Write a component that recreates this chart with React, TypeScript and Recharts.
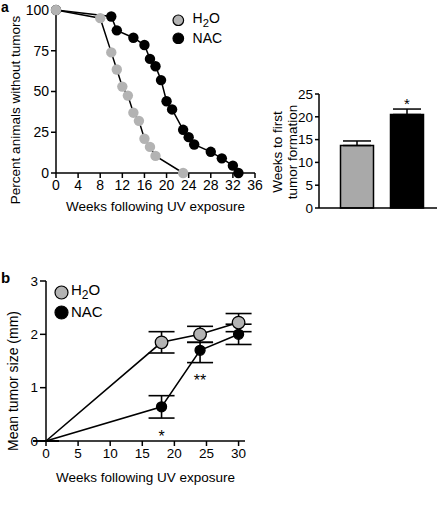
import { LineChart, Line, XAxis, YAxis, ErrorBar, BarChart, Bar, Cell, LabelList, Legend } from 'recharts';

const FONT = '"Liberation Sans", Arial, sans-serif';
const GRAY = '#b3b3b3';
const BAR_GRAY = '#a9a9a9';

// panel a - percent of animals without tumors
const weeksH2O = [0, 8, 10, 11, 12, 13, 14, 15, 16, 17, 18, 23];
const pctH2O = [100, 95, 74, 63.5, 53, 47.5, 37, 32, 21, 16, 10.5, 0];
const weeksNAC = [0, 10, 11, 14, 16, 17, 18, 19, 20, 21, 23, 24, 25, 28, 30, 32, 33];
const pctNAC = [100, 96, 87.5, 83, 78.5, 70, 65.5, 57, 44, 39, 26.5, 22, 17.5, 13, 9, 4.5, 0];
const weekTicks = [0, 4, 8, 12, 16, 20, 24, 28, 32, 36];
const pctTicks = [0, 25, 50, 75, 100];

// inset - weeks to first tumor
const groups = ['H2O', 'NAC'];
const firstTumor = [13.7, 20.5];
const firstTumorErr = [1.0, 1.2];
const firstTumorSig = ['', '*'];
const firstTicks = [0, 5, 10, 15, 20, 25];

// panel b - mean tumor size
const sizeWeeks = [0, 18, 24, 30];
const sizeH2O = [0, 1.85, 2.0, 2.22];
const sizeH2OErr = [0, 0.2, 0.15, 0.17];
const sizeNAC = [0, 0.64, 1.7, 2.0];
const sizeNACErrLow = [0, 0.21, 0.23, 0.19];
const sizeNACErrHigh = [0, 0.21, 0.15, 0.19];
const sizeSig = ['', '*', '**', ''];
const sizeXTicks = [0, 5, 10, 15, 20, 25, 30];
const sizeYTicks = [0, 1, 2, 3];

const survH2O = weeksH2O.map((w, i) => ({ week: w, pct: pctH2O[i] }));
const survNAC = weeksNAC.map((w, i) => ({ week: w, pct: pctNAC[i] }));
const firstData = groups.map((g, i) => ({ group: g, weeks: firstTumor[i], err: [0, firstTumorErr[i]], sig: firstTumorSig[i] }));
const sizeDataH2O = sizeWeeks.map((w, i) => ({ week: w, mm: sizeH2O[i], err: sizeH2OErr[i] }));
const sizeDataNAC = sizeWeeks.map((w, i) => ({ week: w, mm: sizeNAC[i], err: [sizeNACErrLow[i], sizeNACErrHigh[i]], sig: sizeSig[i] }));

const H2OLabel = () => (
  <span>H<sub style={{ fontSize: '0.8em' }}>2</sub>O</span>
);

// rotated y-axis title, one or more lines
function AxisTitle({ lines, titleX, titleY, gap = 15, size = 13.5 }: any) {
  return (
    <g>
      {lines.map((t: string, i: number) => {
        const tx = titleX + i * gap;
        return (
          <text key={i} x={tx} y={titleY} transform={`rotate(-90, ${tx}, ${titleY})`} textAnchor="middle"
            dominantBaseline="central" fontSize={size} fontFamily={FONT} fill="#000">{t}</text>
        );
      })}
    </g>
  );
}

function Key({ r, rowH, gap, fontSize }: any) {
  const items = [
    { key: 'h2o', fill: GRAY, label: <H2OLabel /> },
    { key: 'nac', fill: '#000', label: 'NAC' },
  ];
  return (
    <div style={{ fontFamily: FONT, fontSize, color: '#000' }}>
      {items.map(it => (
        <div key={it.key} style={{ display: 'flex', alignItems: 'center', height: rowH }}>
          <svg width={2 * r + 2} height={2 * r + 2}>
            <circle cx={r + 1} cy={r + 1} r={r} fill={it.fill} stroke="#000" strokeWidth={1.2} />
          </svg>
          <span style={{ marginLeft: gap, lineHeight: `${rowH}px` }}>{it.label}</span>
        </div>
      ))}
    </div>
  );
}

const sizeDot = (fill: string, r: number) => (props: any) => {
  const { cx, cy, payload, index } = props;
  if (payload.week === 0) return <g key={index} />;
  return <circle key={index} cx={cx} cy={cy} r={r} fill={fill} stroke="#000" strokeWidth={1.3} />;
};

const tick = (size: number) => ({ fill: '#000', fontSize: size, fontFamily: FONT });
const axisLine = { stroke: '#000', strokeWidth: 1.5 };
const tickLine = { stroke: '#000', strokeWidth: 1.5 };

export default function App() {
  return (
    <div style={{ position: 'absolute', left: 0, top: 0, width: 440, height: 527, background: '#fff', fontFamily: FONT }}>
      <div style={{ position: 'absolute', left: 1, top: 0, fontSize: 14, fontWeight: 'bold', lineHeight: '14px' }}>a</div>
      <div style={{ position: 'absolute', left: 1, top: 270, fontSize: 15, fontWeight: 'bold', lineHeight: '15px' }}>b</div>

      {/* survival curves */}
      <div style={{ position: 'absolute', left: 0, top: 0 }}>
        <LineChart width={270} height={250} margin={{ top: 10, right: 15, bottom: 0, left: 0 }}>
          <XAxis type="number" dataKey="week" domain={[0, 36]} ticks={weekTicks} height={41}
            tick={tick(14)} tickSize={5} axisLine={axisLine} tickLine={tickLine}
            label={{ value: 'Weeks following UV exposure', position: 'insideBottom', offset: 3, fontSize: 13.5, fontFamily: FONT, fill: '#000' }} />
          <YAxis type="number" domain={[0, 100]} ticks={pctTicks} width={56}
            tick={tick(14)} tickSize={5} axisLine={axisLine} tickLine={tickLine}
            label={<AxisTitle lines={['Percent animals without tumors']} titleX={15} titleY={110} />} />
          <Legend content={() => <Key r={5.3} rowH={18} gap={8} fontSize={14} />}
            wrapperStyle={{ left: 172, top: 11, width: 'auto' }} />
          <Line data={survNAC} dataKey="pct" stroke="#000" strokeWidth={1.5} isAnimationActive={false}
            dot={{ r: 5.2, fill: '#000', stroke: '#000', strokeWidth: 0 }} activeDot={false} />
          <Line data={survH2O} dataKey="pct" stroke="#000" strokeWidth={1.5} isAnimationActive={false}
            dot={{ r: 5.2, fill: GRAY, stroke: GRAY, strokeWidth: 0 }} activeDot={false} />
        </LineChart>
      </div>

      {/* weeks to first tumor */}
      <div style={{ position: 'absolute', left: 262, top: 60 }}>
        <BarChart width={178} height={170} data={firstData} margin={{ top: 34, right: 3, bottom: 0, left: 0 }}>
          <XAxis dataKey="group" tick={false} tickLine={false} height={22} axisLine={axisLine}
            padding={{ left: 12.5, right: 5.5 }} />
          <YAxis type="number" domain={[0, 25]} ticks={firstTicks} width={57}
            tick={tick(13.5)} tickSize={4} axisLine={axisLine} tickLine={tickLine}
            label={<AxisTitle lines={['Weeks to first', 'tumor formation']} titleX={15} titleY={92} gap={15} />} />
          <Bar dataKey="weeks" barSize={33} stroke="#000" strokeWidth={1.5} isAnimationActive={false}>
            {firstData.map((d, i) => (
              <Cell key={d.group} fill={i === 0 ? BAR_GRAY : '#000'} />
            ))}
            <ErrorBar dataKey="err" width={14} stroke="#000" strokeWidth={1.5} direction="y" />
            <LabelList dataKey="sig" position="top" offset={6} fontSize={15} fill="#000" fontFamily={FONT} />
          </Bar>
        </BarChart>
      </div>

      {/* mean tumor size */}
      <div style={{ position: 'absolute', left: 0, top: 270 }}>
        <LineChart width={300} height={257} margin={{ top: 11, right: 55, bottom: 0, left: 0 }}>
          <XAxis type="number" dataKey="week" domain={[0, 31]} ticks={sizeXTicks} height={46}
            tick={tick(13.5)} tickSize={5} axisLine={axisLine} tickLine={tickLine}
            label={{ value: 'Weeks following UV exposure', position: 'insideBottom', offset: 5, fontSize: 13.5, fontFamily: FONT, fill: '#000' }} />
          <YAxis type="number" domain={[0, 3]} ticks={sizeYTicks} width={46}
            tick={tick(13.5)} tickSize={6} axisLine={axisLine} tickLine={tickLine}
            label={<AxisTitle lines={['Mean tumor size (mm)']} titleX={13} titleY={111} size={14} />} />
          <Legend content={() => <Key r={6.5} rowH={20} gap={2} fontSize={15} />}
            wrapperStyle={{ left: 54, top: 12, width: 'auto' }} />
          <Line data={sizeDataNAC} dataKey="mm" stroke="#000" strokeWidth={1.6} isAnimationActive={false}
            dot={sizeDot('#000', 5)} activeDot={false}>
            <ErrorBar dataKey="err" width={13} stroke="#000" strokeWidth={1.6} direction="y" />
            <LabelList dataKey="sig" position="bottom" offset={24} fontSize={16} fill="#000" fontFamily={FONT} />
          </Line>
          <Line data={sizeDataH2O} dataKey="mm" stroke="#000" strokeWidth={1.6} isAnimationActive={false}
            dot={sizeDot(GRAY, 6.3)} activeDot={false}>
            <ErrorBar dataKey="err" width={13} stroke="#000" strokeWidth={1.6} direction="y" />
          </Line>
        </LineChart>
      </div>
    </div>
  );
}
